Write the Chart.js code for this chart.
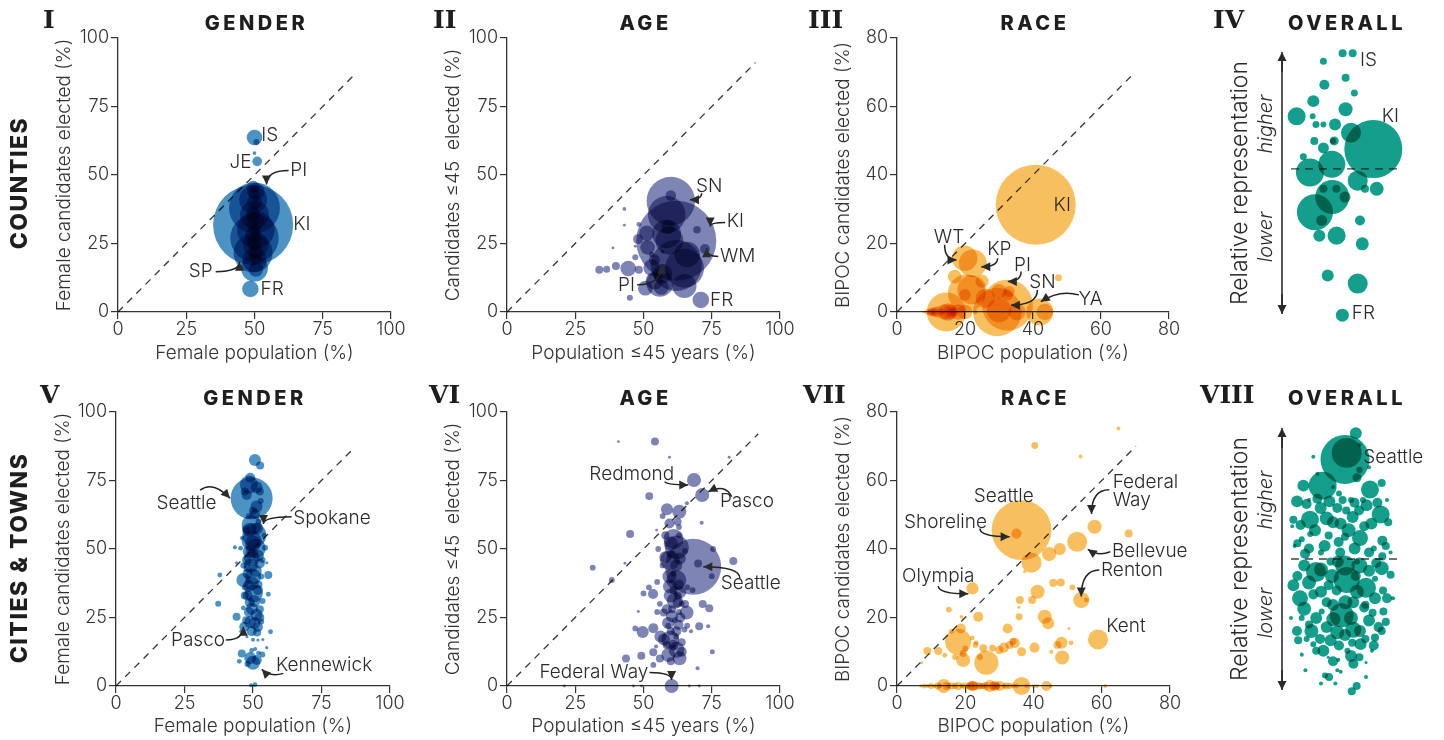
<!DOCTYPE html>
<html>
<head>
<meta charset="utf-8">
<script src="https://cdn.jsdelivr.net/npm/chart.js@4.4.1/dist/chart.umd.min.js"></script>
<style>
  html, body { margin: 0; padding: 0; background: #fff; }
  #wrap { position: relative; width: 1444px; height: 740px; overflow: hidden; background: #fff; }
  #wrap canvas { position: absolute; }
</style>
</head>
<body>
<div id="wrap"></div>
<script>
// rows are [x value, y value, population in thousands (bubble area)]

// counties
const countiesGender = [
  [49.5,31.8,2270],[50,38,920],[50,27,830],[49.5,21.5,540],[50.5,30,500],[50,35.5,295],[49.5,41,275],
  [50,16,256],[50.5,24.5,230],[50,19,207],[50,33,130],[50.5,44,110],[49.5,28,100],[48.5,8.4,97],
  [50,63.7,86],[50,40,83],[50.5,22,80],[50.5,15.5,76],[49.5,36,67],[50,25.5,78],[49.5,45.5,62],
  [50.5,19.5,48],[49.5,34,47],[50,30,45],[50,43,44],[49.5,25,43],[51,55,33],[50.7,62,13],
  [50,38.5,23],[50.5,28.5,23],[49.5,20.5,20],[50,58,5],[50,45,14],[50.5,32,12],[50,23,11],
  [49.5,17.5,8],[50,27,4.5],[50.5,40.5,4],[50,42,2.3]
];
const countiesAge = [
  [62,26,2270],[62,17,920],[60,40.5,830],[65,16,540],[58.5,35.5,500],[58.5,28.5,295],[59.5,26,275],
  [56,10.5,256],[66,21,230],[65,9.5,207],[57,14,130],[54,11.4,110],[53,16.2,100],[71,4.4,97],
  [44.4,15.9,86],[51.2,28.8,83],[56.5,9,80],[51.5,23.6,76],[59,31,67],[50.7,8.7,78],[60,42.5,40],
  [69.6,30,20],[39.9,16.8,23],[48,26.6,35],[54,19,44],[47,20,13],[38.8,23.4,3],[36.5,15.6,18],
  [33.8,15.4,22],[45,5.2,13],[48.3,15.4,23],[43,37.6,5],[43,31.7,3],[48.3,32,8],[53,21,11],
  [55,13,15],[57,22,5],[72.5,23,35],[47,24,3]
];
const countiesRace = [
  [40.8,31.3,2270],[32.5,2,920],[29.5,0,830],[14.5,0,540],[20.5,5.5,500],[22,6.5,295],[22.3,14.2,275],
  [42,0,256],[19.9,15.7,230],[30,0.5,207],[26,4,130],[15,0,110],[35.3,0,100],[43.5,0,97],
  [18,0,86],[14,0,83],[30,6,80],[20,0,76],[17,10.3,67],[15.5,0,78],[25,9,62],[20,5,48],
  [12,0,47],[16,0,45],[33,6,44],[32.5,5,43],[11,0,33],[10,0,23],[17,0,23],[16,0,23],
  [47.5,10,17],[11,0,18],[10,0,14],[13,0,12],[9,0,11],[23,0,8],[11,0,4.5],[14,0,4],[8,0,2.3]
];
const countiesOverall = [
  [73.6,0.17,2270],[56.4,0.99,43],[48,0.99,43],[32,0.92,33],[50.5,0.78,43],[32.8,0.72,68],
  [57.8,0.65,33],[23.6,0.58,97],[50.5,0.51,132],[9.7,0.45,219],[23,0.45,24],[25.8,0.38,33],
  [32,0.38,24],[41.7,0.38,97],[55,0.31,270],[24.4,0.24,43],[41,0.24,55],[40,0.24,24],
  [32,0.18,82],[15.3,0.105,33],[39,0.04,492],[20.8,-0.03,529],[60.6,-0.1,270],[76.4,-0.17,132],
  [66.7,-0.17,43],[39.4,-0.24,780],[32,-0.17,43],[42.8,-0.17,43],[50,-0.24,82],[25,-0.37,875],
  [30.6,-0.44,82],[62.5,-0.44,68],[28.6,-0.57,97],[43,-0.57,219],[64.4,-0.64,114],
  [35.6,-0.91,97],[60.6,-0.98,270],[47.8,-1.25,114]
];

// cities & towns
const citiesGender = [
  [49.5,68.5,745],[50.7,82.5,61],[52.6,80.5,27],[48.5,73.5,137],[51.3,72.5,61],[47.7,69.7,42],
  [51.3,65.5,61],[50.7,62.8,42],[52.8,67.5,15],[49.5,58.8,169],[50.5,55,243],[49.5,53,169],
  [51,50.2,169],[43.4,50.6,7],[45.5,50.3,10],[54.4,50.5,15],[49.6,46.6,108],[52.5,44.7,42],
  [47.8,46,42],[37.9,40.5,10],[46.5,38.7,83],[50,39.9,108],[55.6,40.5,27],[48.5,36.5,61],
  [50.3,33.8,137],[55.6,33.5,10],[47,33,27],[37.3,30,15],[49.6,28.2,61],[51.3,26,61],
  [44,25.3,27],[52.3,25,42],[49,23.4,61],[51.8,21.5,42],[56.4,19.8,10],[47.8,18,4],
  [50,16.9,7],[51.8,16.8,4],[53.6,17,4],[46.8,21.6,42],[45.9,11.9,27],[49,10.2,61],
  [50,8.5,84],[51.4,9.5,42],[53.4,11.5,15],[50.8,13.5,7],[49.3,0.3,7],[50.7,0.5,10],
  [48.5,62,15],[47.5,57,27],[52,60,15],[48,43,27],[52,37,27],[48.8,30.5,42],
  [48.8,57,83],[51.5,57.5,61],[50,52,108],[48.5,49,61],[51.8,47.5,61],[49.2,44,83],[51,42,61],
  [48,41,42],[49.5,37.5,83],[51.8,35,42],[48,33,42],[50.5,31,61],[48.5,27,42],[50.5,23,61],
  [52.5,28,27],[47.5,24,27],[49.5,20,42],[51.5,19.5,27],[53,23.5,15],[46.5,28.5,10],[53.5,31,15],
  [47,36,15],[53,40,15],[46.5,44,15],[53.5,46,15],[46,54,7],[54,55,10],[50,64,27],[52.5,71,27],
  [47,71,27],[49,76,42],[49.5,13,10],[52,12,10],[48,8,15],[45,9,10],[55,14,4],[55,45,4],
  [44,45,4],[45.5,20,4],[50,48.5,42]
];
const citiesAge = [
  [40.8,89.2,2],[54.2,89.2,15],[59.5,83.5,2],[81.4,83.5,2],[68.5,75.2,46],[71.5,69.7,46],
  [52.1,69.3,15],[58.6,64.5,34],[63.1,63.6,46],[65.9,66.7,4],[59.5,59.3,24],[62.5,59.9,15],
  [71.3,59.6,4],[54.8,56.9,2],[45.1,55.5,15],[61,53.7,94],[62.2,50.6,135],[55.4,50,8],
  [75.5,50,8],[65.2,49.3,8],[68.2,43.5,740],[59.7,45.9,94],[63.3,46.5,34],[70,44.7,15],
  [82.9,45.6,15],[31.4,43.2,8],[43.2,44.8,2],[38.4,38.7,8],[75,40.1,8],[62,38.7,94],
  [59.7,36.3,46],[53.5,33.6,24],[50,33.8,8],[63.4,34.2,34],[61.5,31.1,60],[65.2,29.9,15],
  [71.7,29.9,15],[74.1,28.4,15],[48.1,27.2,2],[57.4,26.8,15],[60.4,25.5,34],[65.8,26.8,46],
  [62.8,22.3,24],[53.6,21.1,24],[49.7,19.7,34],[70.4,21.8,15],[73.7,21.8,4],[56.2,18.1,34],
  [59.8,16.9,76],[65,20.6,8],[67.4,20,4],[54.6,14.4,4],[62.1,13.2,60],[59.1,11.3,46],
  [63.2,10.1,46],[53.6,12.3,15],[49.2,11,15],[43.6,10,15],[75.2,12.5,6],[69.8,6.5,4],
  [53.6,7.7,8],[60.3,0,46],[21,0,2],[46.3,0,2],[49.3,0,2],[66.8,0,2],[70.4,0,2],
  [61,35,15],[62.5,33,15],[60.5,28,15],[63,27,8],[61.5,24,8],[59,22,8],[60,20,15],
  [62,18,8],[58.5,15,15],[61,14,8],[60,9,15],[64,30,8],[61,41,8],[60,48,15],[63,55,8],[57,44,8],
  [60,52,46],[58,47,34],[62,44,34],[59.5,40,46],[63,37,24],[60,33,46],[62.5,30.5,24],[58.5,28,24],
  [63.5,25,24],[59,23,34],[62,20,24],[57.5,17,34],[61,15,24],[64,12.5,24],[56,10,15],[64,16,15],
  [66,22,8],[56,30,8],[55,38,8],[66,36,8],[58,55,15],[63,58,8],[57,62,8],[55,27,8],[47,21,8],
  [52,36,8],[68,35,8]
];
const citiesRace = [
  [64.9,75.2,3],[40.4,70.2,10],[53.8,67,3],[36.5,45.5,740],[35,44.5,21],[57.9,46.5,41],
  [67.9,44.5,13],[52.8,42.1,83],[44.6,38.5,41],[47.7,40,30],[39.4,36,83],[37.4,33.4,2],
  [22.1,28.5,30],[41.2,27.5,41],[45.8,30.1,13],[48,30.2,13],[51.4,28.8,7],[54,25.1,53],
  [55.5,25.1,5],[36,25.1,13],[39.6,25.1,13],[35.7,23,2],[15.2,22.3,7],[18.9,20.2,3],
  [23.8,20.2,21],[35.8,20.2,10],[43.3,20.2,41],[44.3,18.3,30],[50.4,16.8,2],[32.4,16.8,21],
  [18.7,16.8,21],[17.9,12.9,140],[58.9,13.6,83],[48.2,12.6,30],[51,12.6,5],[40.3,11.2,21],
  [34.5,12.6,21],[31.3,11.2,21],[25.3,11,13],[23.2,12.6,5],[8.9,10.2,13],[12.1,10.2,13],
  [36.5,10,17],[45.2,10,3],[19.4,9.5,10],[24.3,8.5,7],[19.4,7.6,41],[26.2,6.8,120],
  [48.4,8.3,41],[17,8.5,7],[7.2,6.8,2],
  [16,16,5],[14,9,5],[20,11,7],[22,14,5],[28,11,10],[30,10.5,13],[33,12,13],[34,13,10],
  [23,12,7],[47,12,13],
  [13.7,0,41],[36.5,0,67],[43.8,0,21],[27.2,0,30],[30.1,0,21],[22.3,0,21],[17,0,7],[9,0,3],
  [7,0,2],[11,0,3],[25,0,7],[29,0,13],[19,0,5],[21,0,5],[31.5,0,5],[34,0,5],[40,0,3],
  [61,0,3],[15,0,5],[12.5,0,5],[24,0,10],[26,0,5],
  [8,0,5],[10,0,7],[12,0,10],[14.5,0,13],[16,0,10],[18,0,13],[20,0,10],[21.5,0,13],[23,0,13],
  [24.5,0,7],[26,0,13],[28,0,10],[29.5,0,7],[32,0,10],[33,0,7],[35,0,5],[38,0,5],[41,0,3],
  [45,0,3],[22,0,21],[28.5,0,21]
];
const citiesOverall = [
  [50,0.76,740],[51.4,0.81,277],[59,0.96,44],[31.4,0.56,241],[15.3,0.56,44],[70.8,0.53,100],
  [80.6,0.58,20],[60,0.62,25],[62,0.68,12],[23.6,0.78,5],[62,0.87,5],[70,0.7,5],
  [20.8,0.3,100],[29.7,0.39,44],[34.7,0.31,60],[43.6,0.39,31],[46.4,0.27,44],[56.4,0.32,44],
  [61.7,0.37,31],[79.7,0.34,100],[72,0.27,44],[51,0.37,20],[62.5,0.16,79],[14,0.15,11],
  [21,0.19,11],[36.4,0.18,20],[44.7,0.13,31],[50,0.17,20],[10.3,0.12,20],[81.1,0.14,31],
  [74,0.08,11],[16.7,0.04,31],[81.1,0.02,20],[25.8,-0.1,123],[10.3,-0.13,31],[50,-0.05,123],
  [51.4,-0.16,208],[39.2,-0.13,60],[67.5,-0.22,123],[70,-0.09,44],[80.6,-0.07,60],[59,-0.13,31],
  [43,-0.24,31],[36.4,-0.2,31],[12.5,-0.3,79],[23.6,-0.27,31],[34.7,-0.33,31],[50.3,-0.33,60],
  [56.9,-0.33,44],[81.7,-0.24,20],[67,-0.35,20],[47.2,-0.43,177],[40.3,-0.46,60],[66,-0.37,31],
  [13.9,-0.45,11],[30.6,-0.4,11],[73,-0.41,20],[34.7,-0.52,44],[43.6,-0.56,60],[56.9,-0.54,79],
  [62.5,-0.55,44],[78,-0.52,31],[84,-0.48,20],[80.6,-0.55,20],[29.2,-0.61,31],[67,-0.61,20],
  [56,-0.64,20],[18,-0.61,11],[23.6,-0.65,11],[72.5,-0.7,5],[44.4,-0.77,5],[36,-0.75,3],
  [67.5,-0.79,3],[33.3,-0.89,11],[36.7,-0.9,20],[43.6,-0.85,5],[46.4,-0.86,5],[67.5,-0.9,5],
  [59.7,-0.97,20],[55.6,-1.01,20],
  [8,0.1,5],[6,0.25,5],[88,0.05,5],[90,-0.3,5],[5,-0.45,5],[27,0.65,5],[40,0.55,5],[45,0.5,11],
  [20,0.45,5],[85,0.45,5],[55,0.45,11],[65,0.45,11],[30,0.05,11],[38,-0.02,20],[60,-0.02,11],
  [75,-0.15,11],[20,-0.5,20],[26,-0.7,20],[52,-0.7,11],[62,-0.75,20],[75,-0.6,20],[57,-0.8,31],
  [45,-0.66,31],[38,-0.62,44],[11,-0.62,20],[14,-0.73,5],[17,-0.85,5],[30,-0.95,5],[42,-0.95,5],
  [10,0.44,44],[18,0.42,31],[27,0.46,31],[37,0.44,44],[48,0.45,20],[58,0.43,31],[68,0.41,44],
  [77,0.43,31],[7,0.3,20],[13,0.26,31],[25,0.22,44],[40,0.28,44],[53,0.22,60],[66,0.25,31],
  [86,0.28,20],[20,0.08,31],[33,0.1,44],[46,0.05,31],[58,0.08,44],[70,0.05,31],[84,0.1,20],
  [16,-0.05,44],[30,-0.08,60],[44,-0.02,44],[62,-0.05,79],[76,-0.03,31],[88,-0.12,20],
  [7,-0.2,44],[20,-0.18,60],[30,-0.25,44],[60,-0.25,60],[75,-0.3,44],[85,-0.3,31],
  [16,-0.38,60],[26,-0.45,44],[40,-0.35,44],[55,-0.45,60],[70,-0.47,44],[82,-0.4,20],
  [10,-0.55,31],[22,-0.55,60],[50,-0.58,44],[63,-0.65,44],[74,-0.66,31],[32,-0.7,44],
  [40,-0.78,31],[55,-0.74,44]
];

// labels with optional arrows, in data units
const notesI = [
  { t: 'IS', x: 52.5, y: 64.5 },
  { t: 'JE', x: 48.9, y: 54.6, a: 'right' },
  { t: 'PI', x: 63.1, y: 51.6, from: [62.5, 51.6], to: [54.4, 46.5], bend: 'h' },
  { t: 'KI', x: 64.2, y: 31.9 },
  { t: 'SP', x: 34.7, y: 14.7, a: 'right', from: [35.8, 14.7], to: [44.5, 18.3], bend: 'h' },
  { t: 'FR', x: 52.2, y: 8.4 }
];
const notesII = [
  { t: 'SN', x: 69.2, y: 45.9, from: [71.3, 43.3], to: [67, 41], bend: 'v' },
  { t: 'KI', x: 80.5, y: 33, from: [79.9, 32.7], to: [74.4, 31.2], bend: 'h' },
  { t: 'WM', x: 78, y: 20.5, from: [77.4, 20.3], to: [73.1, 23.3], bend: 'h' },
  { t: 'PI', x: 46.9, y: 9.9, a: 'right', from: [47.7, 9.9], to: [56.7, 17.2], bend: 'h' },
  { t: 'FR', x: 74.4, y: 4.4 }
];
const notesIII = [
  { t: 'KI', x: 48.6, y: 31.3, a: 'center' },
  { t: 'WT', x: 15.3, y: 21.8, a: 'center', from: [14, 19.6], to: [17.5, 15.2], bend: 'v' },
  { t: 'KP', x: 30.1, y: 18.3, a: 'center', from: [29.6, 15.7], to: [24.8, 13.2], bend: 'v' },
  { t: 'PI', x: 36.9, y: 13.7, a: 'center', from: [36.5, 11.8], to: [32.6, 8.9], bend: 'v' },
  { t: 'SN', x: 42.8, y: 8.6, a: 'center', from: [41.3, 6.4], to: [33.5, 2], bend: 'v' },
  { t: 'YA', x: 56.9, y: 3.7, a: 'center', from: [53.5, 5], to: [42.3, 3], ctrl: [47.7, 6.6] }
];
const notesIV = [
  { t: 'IS', x: 62.5, y: 0.93 },
  { t: 'KI', x: 80.6, y: 0.45 },
  { t: 'FR', x: 55.6, y: -1.23 }
];
const notesV = [
  { t: 'Seattle', x: 36.7, y: 66.7, a: 'right', from: [30.7, 71.5], to: [41.6, 68.5], ctrl: [35.5, 75] },
  { t: 'Spokane', x: 64.7, y: 61.2, from: [64.1, 61.8], to: [53.8, 59.1], bend: 'h' },
  { t: 'Pasco', x: 39.8, y: 16.8, a: 'right', from: [40.1, 16.8], to: [46.5, 21.6], bend: 'h' },
  { t: 'Kennewick', x: 58.4, y: 7.7, from: [61.1, 4.6], to: [53.2, 6.1], ctrl: [56, 3.2] }
];
const notesVI = [
  { t: 'Redmond', x: 61.2, y: 77.4, a: 'right', from: [57.9, 74.6], to: [66.4, 73.4], bend: 'v' },
  { t: 'Pasco', x: 78, y: 67.3, from: [82.3, 69.1], to: [73.7, 70.9], ctrl: [80, 74] },
  { t: 'Seattle', x: 78.3, y: 37.5, from: [85.3, 39.3], to: [71.9, 43.5], bend: 'v' },
  { t: 'Federal Way', x: 51.8, y: 4.9, a: 'right', from: [52.2, 4.9], to: [60.3, 2.2], bend: 'h' }
];
const notesVII = [
  { t: 'Seattle', x: 31.3, y: 55.5, a: 'center' },
  { t: 'Shoreline', x: 14.2, y: 47.8, a: 'center', from: [24.3, 46], to: [33, 43.6], bend: 'v' },
  { t: 'Federal', x: 63.2, y: 59.5 },
  { t: 'Way', x: 63.2, y: 54.3, from: [62.2, 57.3], to: [57, 50.2], bend: 'h' },
  { t: 'Bellevue', x: 63, y: 39.2, from: [62.5, 39.2], to: [55.9, 39.9], ctrl: [59, 37.8] },
  { t: 'Renton', x: 59.8, y: 33.9, from: [59.3, 33.9], to: [54, 26.1], bend: 'h' },
  { t: 'Olympia', x: 12.1, y: 31.9, a: 'center', from: [12.1, 29.2], to: [20.9, 26.9], bend: 'v' },
  { t: 'Kent', x: 61.3, y: 17.3 }
];
const notesVIII = [
  { t: 'Seattle', x: 65.3, y: 0.78 }
];

const FONT = 'Inter, "Noto Sans", "Open Sans", sans-serif';
const BLUE = 'rgba(31,119,180,0.8)';
const NAVY = 'rgba(40,50,130,0.6)';
const ORANGE = 'rgba(245,170,40,0.75)';
const TEAL = 'rgba(0,150,130,0.92)';

const panels = [
  { rows: countiesGender, box: [0, 0, 415, 370], area: [118, 391, 38, 312], k: 0.84, color: BLUE,
    max: 100, step: 25, diag: 87, xt: 'Female population (%)', yt: 'Female candidates elected (%)',
    yPad: 53, xPad: 5, roman: ['I', 43, 21], title: ['GENDER', 24], row: ['COUNTIES', 183], notes: notesI },
  { rows: countiesAge, box: [415, 0, 390, 370], area: [507, 780, 38, 312], k: 0.84, color: NAVY,
    max: 100, step: 25, diag: 91, xt: 'Population \u226445 years (%)', yt: 'Candidates \u226445  elected (%)',
    yPad: 27, xPad: 5, roman: ['II', 433, 21], title: ['AGE', 24], notes: notesII },
  { rows: countiesRace, box: [805, 0, 390, 370], area: [897, 1169, 38, 312], k: 0.84, color: ORANGE,
    max: 80, step: 20, diag: 70, xt: 'BIPOC population (%)', yt: 'BIPOC candidates elected (%)',
    yPad: 27, xPad: 5, roman: ['III', 808, 21], title: ['RACE', 24], notes: notesIII },
  { rows: countiesOverall, box: [1195, 0, 249, 370], area: [1285, 1405, 52, 314], k: 0.609, color: TEAL,
    overall: true, ymin: -1.24, line: [5, 98], roman: ['IV', 1213, 21], title: ['OVERALL', 24], notes: notesIV },
  { rows: citiesGender, box: [0, 370, 415, 370], area: [116, 390, 412, 686], k: 0.77, color: BLUE,
    max: 100, step: 25, diag: 87, xt: 'Female population (%)', yt: 'Female candidates elected (%)',
    yPad: 52, xPad: 2, roman: ['V', 40, 396], title: ['GENDER', 399], row: ['CITIES & TOWNS', 558], notes: notesV },
  { rows: citiesAge, box: [415, 370, 385, 370], area: [507, 780, 412, 686], k: 1.03, color: NAVY,
    max: 100, step: 25, diag: 92, xt: 'Population \u226445 years (%)', yt: 'Candidates \u226445  elected (%)',
    yPad: 27, xPad: 2, roman: ['VI', 429, 396], title: ['AGE', 399], notes: notesVI },
  { rows: citiesRace, box: [800, 370, 395, 370], area: [897, 1170, 412, 686], k: 1.1, color: ORANGE,
    max: 80, step: 20, diag: 70, xt: 'BIPOC population (%)', yt: 'BIPOC candidates elected (%)',
    yPad: 32, xPad: 2, roman: ['VII', 803, 396], title: ['RACE', 399], notes: notesVII },
  { rows: citiesOverall, box: [1195, 370, 249, 370], area: [1285, 1405, 428, 690], k: 0.9, color: TEAL,
    overall: true, ymin: -1, line: [5, 98], roman: ['VIII', 1200, 396], title: ['OVERALL', 399], notes: notesVIII }
];

function arrow(ctx, a, b, c) {
  ctx.beginPath();
  ctx.moveTo(a[0], a[1]);
  ctx.quadraticCurveTo(c[0], c[1], b[0], b[1]);
  ctx.stroke();
  let dx = b[0] - c[0], dy = b[1] - c[1];
  if (Math.hypot(dx, dy) < 1) { dx = b[0] - a[0]; dy = b[1] - a[1]; }
  const ang = Math.atan2(dy, dx), L = 9, W = 4.5;
  const cs = Math.cos(ang), sn = Math.sin(ang);
  ctx.beginPath();
  ctx.moveTo(b[0], b[1]);
  ctx.lineTo(b[0] - L * cs + W * sn, b[1] - L * sn - W * cs);
  ctx.lineTo(b[0] - L * cs - W * sn, b[1] - L * sn + W * cs);
  ctx.closePath();
  ctx.fill();
}

function vText(ctx, text, x, y, font) {
  ctx.save();
  ctx.translate(x, y);
  ctx.rotate(-Math.PI / 2);
  ctx.font = font;
  ctx.textAlign = 'center';
  ctx.fillText(text, 0, 0);
  ctx.restore();
}

function decor(p) {
  const ox = p.box[0], oy = p.box[1];
  return {
    id: 'decor',
    beforeDraw(chart) {
      const c = chart.ctx;
      c.save();
      c.fillStyle = '#fff';
      c.fillRect(0, 0, chart.width, chart.height);
      c.restore();
    },
    // overlapping bubbles darken like the original
    beforeDatasetsDraw(chart) {
      chart.ctx.save();
      chart.ctx.globalCompositeOperation = 'multiply';
    },
    afterDatasetsDraw(chart) {
      chart.ctx.restore();
    },
    afterDraw(chart) {
      const ctx = chart.ctx, a = chart.chartArea;
      const sx = chart.scales.x, sy = chart.scales.y;
      const P = v => [sx.getPixelForValue(v[0]), sy.getPixelForValue(v[1])];
      ctx.save();
      ctx.textBaseline = 'middle';
      ctx.fillStyle = '#1e1e1e';

      ctx.font = 'bold 25px "DejaVu Serif", serif';
      ctx.textAlign = 'left';
      ctx.fillText(p.roman[0], p.roman[1] - ox, p.roman[2] - oy);

      ctx.font = '800 20px ' + FONT;
      ctx.letterSpacing = '3.5px';
      ctx.textAlign = 'center';
      ctx.fillText(p.title[0], (a.left + a.right) / 2 + 2, p.title[1] - oy);

      if (p.row) {
        ctx.letterSpacing = '1.5px';
        vText(ctx, p.row[0], 20 - ox, p.row[1] - oy, '800 23px ' + FONT);
      }
      ctx.letterSpacing = '0px';

      ctx.strokeStyle = '#222';
      ctx.fillStyle = '#2a2a2a';
      ctx.lineWidth = 1.5;

      if (p.overall) {
        const x0 = a.left - 3;
        ctx.beginPath();
        ctx.moveTo(x0, a.top + 4);
        ctx.lineTo(x0, a.bottom - 4);
        ctx.stroke();
        arrow(ctx, [x0, a.top + 20], [x0, a.top], [x0, a.top + 10]);
        arrow(ctx, [x0, a.bottom - 20], [x0, a.bottom], [x0, a.bottom - 10]);
        vText(ctx, 'Relative representation', a.left - 45, (a.top + a.bottom) / 2, '300 23px ' + FONT);
        vText(ctx, 'higher', a.left - 19, a.top + 72, 'italic 300 20px ' + FONT);
        vText(ctx, 'lower', a.left - 19, a.top + 185, 'italic 300 20px ' + FONT);
      }

      ctx.font = '300 19px ' + FONT;
      p.notes.forEach(n => {
        ctx.textAlign = n.a || 'left';
        const t = P([n.x, n.y]);
        ctx.fillText(n.t, t[0], t[1]);
        if (!n.from) return;
        const s = P(n.from), e = P(n.to);
        const c = n.ctrl ? P(n.ctrl) : (n.bend === 'v' ? [s[0], e[1]] : [e[0], s[1]]);
        arrow(ctx, s, e, c);
      });
      ctx.restore();
    }
  };
}

function axis(p, isX) {
  const size = isX ? (p.box[1] + p.box[3] - p.area[3]) : (p.area[0] - p.box[0]);
  return {
    type: 'linear', min: 0, max: p.max, z: 1,
    ticks: { stepSize: p.step, color: '#333', padding: isX ? 0 : 2, maxRotation: 0,
             font: { family: FONT, size: 18, weight: '300' } },
    grid: { drawOnChartArea: false, drawTicks: true, tickLength: 7, color: '#333', lineWidth: 1.2 },
    border: { display: true, color: '#333', width: 1.3 },
    title: { display: true, text: isX ? p.xt : p.yt, color: '#333',
             font: { family: FONT, size: 19, weight: '300' },
             padding: isX ? { top: 0, bottom: p.xPad } : { top: p.yPad, bottom: 0 } },
    afterFit: s => { if (isX) s.height = size; else s.width = size; }
  };
}

const wrap = document.getElementById('wrap');
panels.forEach(p => {
  const cv = document.createElement('canvas');
  cv.width = p.box[2];
  cv.height = p.box[3];
  cv.style.left = p.box[0] + 'px';
  cv.style.top = p.box[1] + 'px';
  wrap.appendChild(cv);

  const bubbles = {
    type: 'bubble',
    data: p.rows.map(r => ({ x: r[0], y: r[1], r: p.k * Math.sqrt(r[2]) })),
    backgroundColor: p.color,
    borderWidth: 0,
    clip: false,
    order: 1
  };
  const guide = p.overall
    ? [{ x: p.line[0], y: 0 }, { x: p.line[1], y: 0 }]
    : [{ x: 0, y: 0 }, { x: p.diag, y: p.diag }];
  const line = {
    type: 'line',
    data: guide,
    borderColor: p.overall ? '#444' : '#333',
    borderWidth: 1.3,
    borderDash: p.overall ? [8, 6] : [7, 6],
    pointRadius: 0,
    fill: false,
    clip: false,
    order: 0
  };

  let scales, padding;
  if (p.overall) {
    scales = {
      x: { type: 'linear', display: false, min: 0, max: 100 },
      y: { type: 'linear', display: false, min: p.ymin, max: 1 }
    };
    padding = { left: p.area[0] - p.box[0], right: p.box[0] + p.box[2] - p.area[1],
                top: p.area[2] - p.box[1], bottom: p.box[1] + p.box[3] - p.area[3] };
  } else {
    scales = { x: axis(p, true), y: axis(p, false) };
    padding = { left: 0, right: p.box[0] + p.box[2] - p.area[1], top: p.area[2] - p.box[1], bottom: 0 };
  }

  new Chart(cv, {
    type: 'bubble',
    data: { datasets: [bubbles, line] },
    options: {
      responsive: false,
      animation: false,
      events: [],
      layout: { autoPadding: false, padding: padding },
      scales: scales,
      plugins: { legend: { display: false }, tooltip: { enabled: false }, title: { display: false } }
    },
    plugins: [decor(p)]
  });
});
</script>
</body>
</html>
